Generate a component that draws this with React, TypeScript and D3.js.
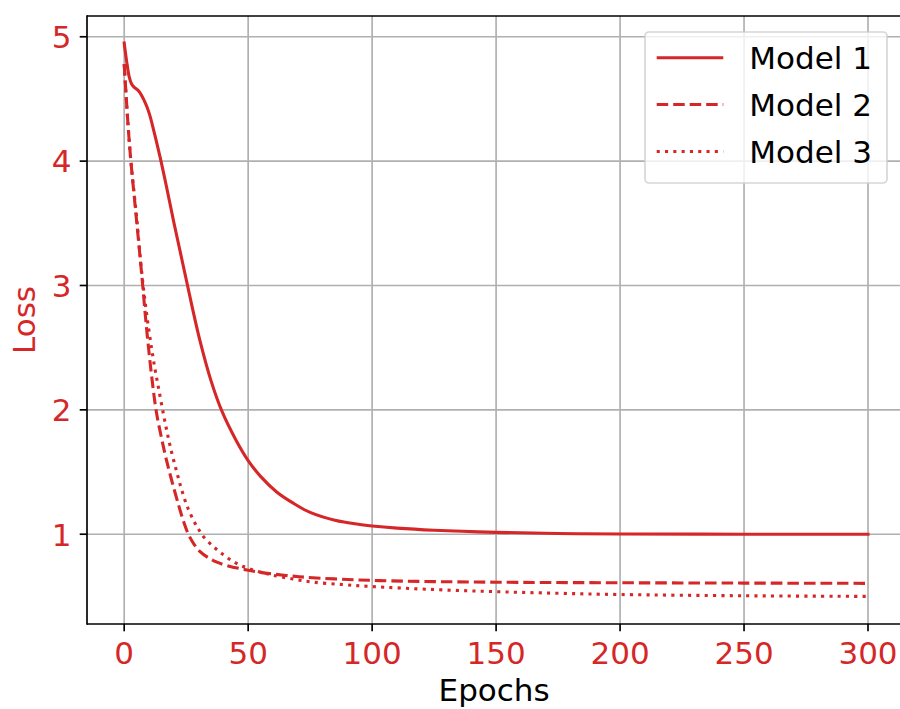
import React from "react";
import * as d3 from "d3";

// Training loss curves for three models
const epochs1 = [0, 1, 2, 3, 4, 6, 8, 10, 12, 14.5, 17, 20, 22.5, 25, 27.5, 30.5, 35, 39.5, 45, 50, 55, 61.5, 68, 75, 85, 95, 100, 110, 125, 150, 175, 200, 250, 300];
const loss1 = [4.95, 4.8, 4.68, 4.62, 4.595, 4.56, 4.49, 4.39, 4.24, 4.03, 3.8, 3.51, 3.28, 3.05, 2.82, 2.56, 2.235, 1.985, 1.76, 1.592, 1.465, 1.34, 1.252, 1.175, 1.112, 1.078, 1.066, 1.049, 1.032, 1.015, 1.006, 1.002, 1.0, 1.0];

const epochs2 = [0, 0.8, 1.7, 2.7, 5, 7.1, 9, 11.2, 13, 15.2, 17, 19.2, 22, 24, 25.9, 28, 30.6, 34, 37.4, 42, 49.5, 55, 60, 68, 76, 90, 103, 125, 150, 192, 250, 300];
const loss2 = [4.78, 4.52, 4.25, 4.0, 3.52, 3.08, 2.66, 2.25, 1.98, 1.76, 1.6, 1.43, 1.23, 1.1, 1.0, 0.925, 0.86, 0.81, 0.775, 0.745, 0.712, 0.693, 0.68, 0.663, 0.65, 0.636, 0.627, 0.619, 0.614, 0.61, 0.607, 0.605];

const epochs3 = [0, 0.8, 1.7, 2.7, 5, 7.1, 9, 11, 12.5, 13.8, 15.5, 17.2, 19, 21.2, 23, 25.3, 28, 30, 32, 36, 40, 44, 48, 52, 56, 60, 68, 76, 88, 99, 125, 150, 175, 200, 250, 300];
const loss3 = [4.78, 4.52, 4.25, 4.0, 3.55, 3.1, 2.78, 2.5, 2.32, 2.18, 2.0, 1.83, 1.67, 1.5, 1.37, 1.23, 1.11, 1.04, 0.98, 0.9, 0.835, 0.78, 0.74, 0.712, 0.69, 0.67, 0.64, 0.615, 0.595, 0.58, 0.555, 0.538, 0.525, 0.515, 0.505, 0.5];

const seriesNames = ["Model 1", "Model 2", "Model 3"];
const xTicks = [0, 50, 100, 150, 200, 250, 300];
const yTicks = [1, 2, 3, 4, 5];

const RED = "#d62728";
const FONT = "DejaVu Sans, sans-serif";

export default function App() {
  const W = 900;
  const H = 709;
  const left = 87;
  const top = 16;
  const bottom = 624;
  const right = 905.2;

  const x = d3.scaleLinear().domain([-15, 315]).range([left, right]);
  const y = d3.scaleLinear().domain([0.278, 5.167]).range([bottom, top]);

  const line = d3
    .line<[number, number]>()
    .x((d) => x(d[0]))
    .y((d) => y(d[1]))
    .curve(d3.curveCatmullRom.alpha(0.5));

  const series = [
    { name: seriesNames[0], xs: epochs1, ys: loss1, dash: undefined as string | undefined },
    { name: seriesNames[1], xs: epochs2, ys: loss2, dash: "11.5,5" },
    { name: seriesNames[2], xs: epochs3, ys: loss3, dash: "3.1,5.2" },
  ];

  const tickLen = 7.3;
  const fs = 31;

  const legX = 645;
  const legY = 32;
  const legW = 242;
  const legH = 151;
  const rowY = [57.7, 104.5, 151.5];

  return (
    <svg
      width={W}
      height={H}
      style={{ position: "absolute", left: 0, top: 0, background: "#fff" }}
      fontFamily={FONT}
    >
      <rect x={0} y={0} width={W} height={H} fill="#fff" />
      <defs>
        <clipPath id="plot">
          <rect x={left} y={top} width={right - left} height={bottom - top} />
        </clipPath>
      </defs>

      {/* grid */}
      <g stroke="#b0b0b0" strokeWidth={1.67}>
        {xTicks.map((t) => (
          <line key={"gx" + t} x1={x(t)} x2={x(t)} y1={top} y2={bottom} />
        ))}
        {yTicks.map((t) => (
          <line key={"gy" + t} x1={left} x2={right} y1={y(t)} y2={y(t)} />
        ))}
      </g>

      {/* curves */}
      <g clipPath="url(#plot)" fill="none" stroke={RED} strokeWidth={3.1}>
        {series.map((s) => (
          <path
            key={s.name}
            d={line(s.xs.map((e, i) => [e, s.ys[i]] as [number, number])) || ""}
            strokeDasharray={s.dash}
            strokeLinecap={s.dash ? "butt" : "square"}
            strokeLinejoin="round"
          />
        ))}
      </g>

      {/* spines */}
      <g stroke="#000" strokeWidth={1.67} fill="none">
        <line x1={left} x2={left} y1={top - 0.8} y2={bottom + 0.8} />
        <line x1={left} x2={right} y1={bottom} y2={bottom} />
        <line x1={left} x2={right} y1={top} y2={top} />
        <line x1={right} x2={right} y1={top} y2={bottom} />
      </g>

      {/* x axis */}
      <g>
        {xTicks.map((t) => (
          <g key={"xt" + t}>
            <line x1={x(t)} x2={x(t)} y1={bottom} y2={bottom + tickLen} stroke="#000" strokeWidth={1.67} />
            <text x={x(t)} y={664} textAnchor="middle" fontSize={fs} fill={RED}>
              {t}
            </text>
          </g>
        ))}
        <text x={(left + right) / 2 - 2} y={701} textAnchor="middle" fontSize={fs} fill="#000">
          Epochs
        </text>
      </g>

      {/* y axis */}
      <g>
        {yTicks.map((t) => (
          <g key={"yt" + t}>
            <line x1={left - tickLen} x2={left} y1={y(t)} y2={y(t)} stroke="#000" strokeWidth={1.67} />
            <text x={71.5} y={y(t) + 11.3} textAnchor="end" fontSize={fs} fill={RED}>
              {t}
            </text>
          </g>
        ))}
        <text
          transform={`translate(35, ${(top + bottom) / 2}) rotate(-90)`}
          textAnchor="middle"
          fontSize={fs}
          fill={RED}
        >
          Loss
        </text>
      </g>

      {/* legend */}
      <g>
        <rect
          x={legX}
          y={legY}
          width={legW}
          height={legH}
          rx={4}
          ry={4}
          fill="#fff"
          fillOpacity={0.8}
          stroke="#cccccc"
          strokeOpacity={0.8}
          strokeWidth={1.67}
        />
        {series.map((s, i) => (
          <g key={"lg" + s.name}>
            <line
              x1={656.7}
              x2={723.3}
              y1={rowY[i]}
              y2={rowY[i]}
              stroke={RED}
              strokeWidth={3.1}
              strokeDasharray={s.dash}
            />
            <text x={749.3} y={rowY[i] + 11.3} fontSize={fs} fill="#000">
              {s.name}
            </text>
          </g>
        ))}
      </g>
    </svg>
  );
}
